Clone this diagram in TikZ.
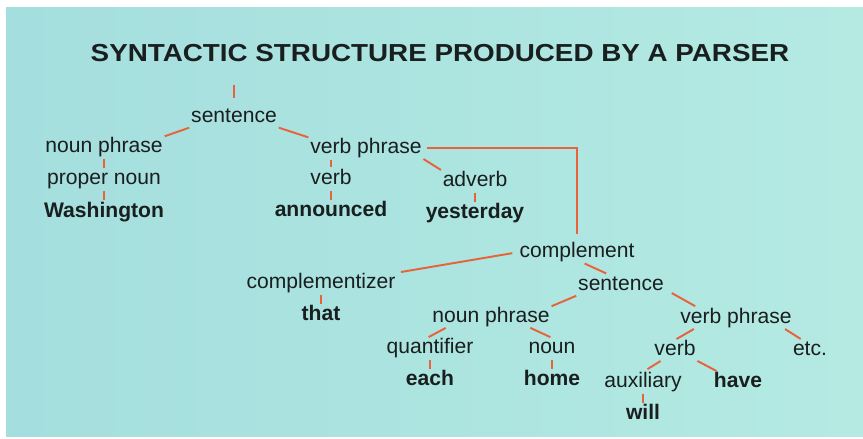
\documentclass[tikz,border=0pt]{standalone}
\usepackage{fontspec}
\setmainfont{Liberation Sans}
\newfontfamily\titlefont{Liberation Sans}[FakeStretch=1.13]
\usepackage{xcolor}
\definecolor{panelcyan}{RGB}{164,222,222}
\definecolor{panelcyanlight}{RGB}{180,234,226}
\definecolor{treeorange}{RGB}{232,98,58}
\definecolor{inkdark}{RGB}{25,30,30}
\usepackage{tikz}
\usetikzlibrary{positioning, calc}

\begin{document}
\begin{tikzpicture}[x=0.02cm, y=-0.02cm, node distance=7pt]

        % Estilos das palavras e dos ramos da arvore
        \tikzstyle{catg} = [inner sep=0pt, text height=8.6pt, text depth=2.5pt, font=\fontsize{12}{14}\selectfont, text=inkdark]
        \tikzstyle{leaf} = [catg, font=\fontsize{12}{14}\selectfont\bfseries]
        \tikzstyle{branch} = [draw=treeorange, line width=1.1pt, shorten <=1pt, shorten >=1pt]

        % Fundo (margem branca fina no topo e a esquerda)
        \useasboundingbox (0,0) rectangle (863,439);
        \fill[white] (0,0) rectangle (863,439);
        \shade[left color=panelcyan, right color=panelcyanlight] (6,8) rectangle (863,436);

        % Titulo
        \node[font=\titlefont\bfseries\fontsize{14}{16}\selectfont, text=inkdark] (title) at (440,53) {SYNTACTIC STRUCTURE PRODUCED BY A PARSER};

        % ---------------------------------------------------------
        % Frase principal
        % ---------------------------------------------------------
        \coordinate (root) at (234,83);
        \node[catg] (sent1) at (234,117) {sentence};
        \node[catg] (np1) at (104,147) {noun phrase};
        \node[catg, below=of np1] (pn) {proper noun};
        \node[leaf, below=of pn] (wash) {Washington};
        \node[catg] (vp1) at (366,148) {verb phrase};
        \node[catg] (verb1) at (331,179) {verb};
        \node[leaf, below=of verb1] (announced) {announced};
        \node[catg] (adverb) at (475,181) {adverb};
        \node[leaf, below=of adverb] (yesterday) {yesterday};

        % ---------------------------------------------------------
        % Complemento
        % ---------------------------------------------------------
        \node[catg] (compl) at (577,252) {complement};
        \node[catg] (compzr) at (321,283) {complementizer};
        \node[leaf, below=of compzr] (that) {that};
        \node[catg] (sent2) at (621,285) {sentence};
        \node[catg] (np2) at (491,317) {noun phrase};
        \node[catg] (quant) at (430,348) {quantifier};
        \node[leaf, below=of quant] (each) {each};
        \node[catg] (noun) at (552,348) {noun};
        \node[leaf, below=of noun] (home) {home};
        \node[catg] (vp2) at (736,318) {verb phrase};
        \node[catg] (verb2) at (675,350) {verb};
        \node[catg] (etc) at (810,350) {etc.};
        \node[catg] (aux) at (643,382) {auxiliary};
        \node[leaf, below=of aux] (will) {will};
        \node[leaf] (have) at (738,382) {have};

        % 1. Ramos da frase principal
        \draw[branch, shorten >=5.2pt] (root) -- (sent1.north);
        \draw[branch] (sent1.south west) -- (np1.north east);
        \draw[branch] (sent1.south east) -- (vp1.north west);
        \draw[branch] (np1) -- (pn);
        \draw[branch] (pn) -- (wash);
        \draw[branch] (vp1.south -| verb1.north) -- (verb1.north);
        \draw[branch] (verb1) -- (announced);
        \draw[branch] (vp1.south east) -- (adverb.north west);
        \draw[branch] (adverb) -- (yesterday);

        % 2. Ligacao em colchete ate o complemento
        \draw[branch, shorten <=3pt, shorten >=4.5pt] (vp1.east) -| (compl.north);

        % 3. Ramos do complemento
        \draw[branch, shorten <=4pt, shorten >=3pt] (compl.west) -- (compzr.north east);
        \draw[branch] (compzr) -- (that);
        \draw[branch, shorten <=2pt, shorten >=2pt] (compl.-66) -- (sent2.139);
        \draw[branch] (sent2.south west) -- (np2.north east);
        \draw[branch] (np2.193) -- (quant.106);
        \draw[branch] (np2.-15) -- (noun.north);
        \draw[branch] (quant) -- (each);
        \draw[branch] (noun) -- (home);
        \draw[branch, shorten <=5pt, shorten >=2pt] (sent2.-5) -- (vp2.165);
        \draw[branch] (vp2.194) -- (verb2.north);
        \draw[branch] (vp2.-12) -- (etc.128);
        \draw[branch, shorten >=3pt] (verb2.218) -- (aux.north);
        \draw[branch] (verb2.south east) -- (have.153);
        \draw[branch] (aux) -- (will);
    \end{tikzpicture}
\end{document}
